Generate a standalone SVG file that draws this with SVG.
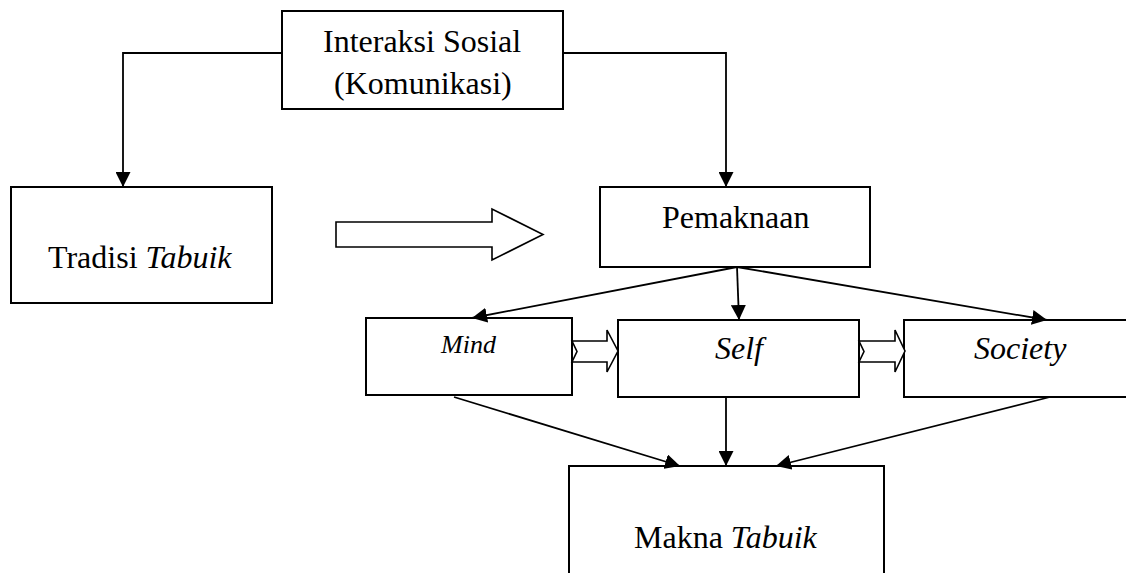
<svg xmlns="http://www.w3.org/2000/svg" width="1126" height="573" viewBox="0 0 1126 573">
<style>
.box{fill:#fff;stroke:#000;stroke-width:2}
.t{font-family:"Liberation Serif","Times New Roman",serif;font-size:32px;fill:#000}
.i{font-style:italic}
.ln{fill:none;stroke:#000;stroke-width:1.8}
.blk{fill:#fff;stroke:#000;stroke-width:1.6;stroke-linejoin:miter}
</style>
<defs>
<marker id="ah" markerUnits="userSpaceOnUse" markerWidth="15" markerHeight="15" refX="15" refY="7.5" orient="auto">
<path d="M0,0 L15,7.5 L0,15 z" fill="#000"/>
</marker>
</defs>
<rect width="1126" height="573" fill="#fff"/>
<g id="interaksi">
<rect class="box" x="282" y="11" width="281" height="98"/>
<text class="t" x="323" y="52">Interaksi Sosial</text>
<text class="t" x="334" y="94">(Komunikasi)</text>
</g>
<g id="tradisi">
<rect class="box" x="11" y="187" width="261" height="116"/>
<text class="t" x="48" y="268">Tradisi <tspan class="i">Tabuik</tspan></text>
</g>
<g id="pemaknaan">
<rect class="box" x="600" y="187" width="270" height="80"/>
<text class="t" x="662" y="228">Pemaknaan</text>
</g>
<g id="mind">
<rect class="box" x="366" y="318" width="206" height="77"/>
<text class="t i" x="441" y="353" style="font-size:26px">Mind</text>
</g>
<g id="self">
<rect class="box" x="618" y="320" width="241" height="77"/>
<text class="t i" x="715" y="359">Self</text>
</g>
<g id="society">
<rect class="box" x="904" y="320" width="240" height="77"/>
<text class="t i" x="974" y="359">Society</text>
</g>
<g id="makna">
<rect class="box" x="569" y="466" width="315" height="120"/>
<text class="t" x="634" y="548">Makna <tspan class="i">Tabuik</tspan></text>
</g>
<g id="connectors">
<polyline class="ln" points="282,53 123,53 123,187" marker-end="url(#ah)"/>
<polyline class="ln" points="563,53 726,53 726,187" marker-end="url(#ah)"/>
<line class="ln" x1="737" y1="267" x2="472" y2="318" marker-end="url(#ah)"/>
<line class="ln" x1="737" y1="267" x2="739" y2="320" marker-end="url(#ah)"/>
<line class="ln" x1="737" y1="267" x2="1047" y2="320" marker-end="url(#ah)"/>
<line class="ln" x1="454" y1="397" x2="680" y2="466" marker-end="url(#ah)"/>
<line class="ln" x1="726" y1="397" x2="726" y2="466" marker-end="url(#ah)"/>
<line class="ln" x1="1050" y1="397" x2="776" y2="466" marker-end="url(#ah)"/>
<polygon class="blk" points="336,222 492,222 492,209 543,234.5 492,260 492,247 336,247"/>
<polygon class="blk" points="572,341 607,341 607,330 618,351 607,372 607,362 572,362 577,351.5"/>
<polygon class="blk" points="859,341 895,341 895,330 905,351 895,372 895,362 859,362 864,351.5"/>
</g>
</svg>
